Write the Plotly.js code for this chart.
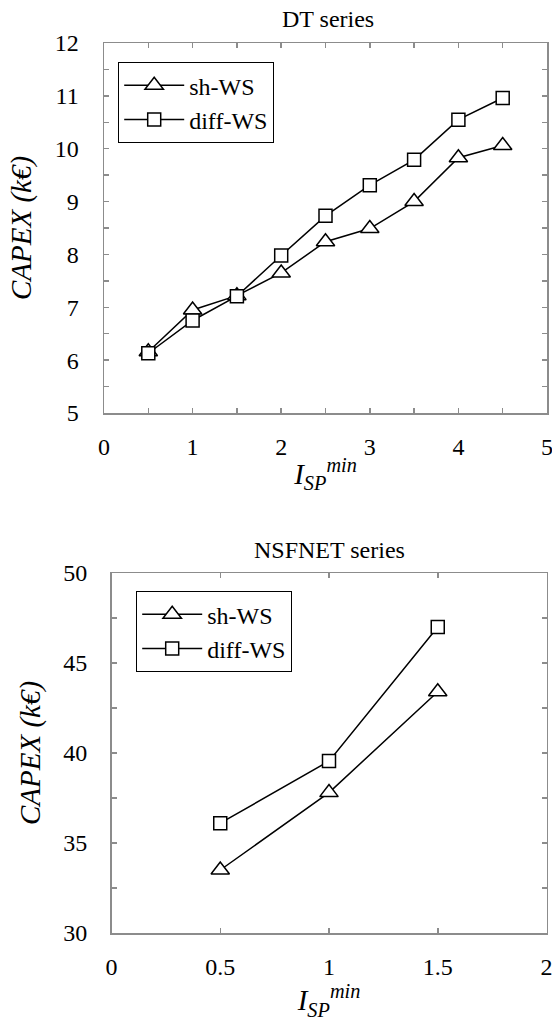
<!DOCTYPE html>
<html><head><meta charset="utf-8">
<script src="https://cdn.plot.ly/plotly-3.0.1.min.js"></script>
<style>body{margin:0;background:#fff}</style>
</head><body><div id="chart" style="width:552px;height:1023px"></div>
<script>
// DT series
const dtX = [0.5, 1, 1.5, 2, 2.5, 3, 3.5, 4, 4.5];
const dtShWS = [6.16, 6.95, 7.22, 7.65, 8.24, 8.49, 9.0, 9.83, 10.06];
const dtDiffWS = [6.13, 6.75, 7.21, 7.98, 8.73, 9.31, 9.79, 10.55, 10.96];
// NSFNET series
const nsX = [0.5, 1, 1.5];
const nsShWS = [33.5, 37.8, 43.4];
const nsDiffWS = [36.1, 39.55, 47.0];
const seriesNames = ['sh-WS', 'diff-WS'];
const panelTitles = ['DT series', 'NSFNET series'];

const gray = '#8c8c8c';

function tr(x, y, name, sym, size, xa, ya, leg) {
  return {x: x, y: y, name: name, type: 'scatter', mode: 'lines+markers',
    xaxis: xa, yaxis: ya, legend: leg, showlegend: true,
    line: {color: '#000', width: 1.5},
    marker: {symbol: sym, size: size, color: '#fff', line: {color: '#000', width: 1.5}}};
}
const data = [
  tr(dtX, dtShWS, seriesNames[0], 'triangle-up', 16, 'x', 'y', 'legend'),
  tr(dtX, dtDiffWS, seriesNames[1], 'square', 13, 'x', 'y', 'legend'),
  tr(nsX, nsShWS, seriesNames[0], 'triangle-up', 16, 'x2', 'y2', 'legend2'),
  tr(nsX, nsDiffWS, seriesNames[1], 'square', 13, 'x2', 'y2', 'legend2')
];

const W = 552, H = 1023;
const minorTicks = (d) => ({ticks: 'inside', ticklen: 5, tickcolor: gray, tickwidth: 1.5, dtick: d, tick0: 0, showgrid: false});
function ax(extra) {
  return Object.assign({
    showline: true, mirror: 'allticks', linecolor: gray, linewidth: 1.5,
    ticks: 'inside', ticklen: 5, tickcolor: gray, tickwidth: 1.5,
    showgrid: false, zeroline: false, ticklabeloverflow: 'allow'
  }, extra);
}
const xTitle = {text: '<i>I<sub>SP</sub><sup>min</sup></i>', standoff: 4};
const yTitle = {text: '<i>CAPEX (k€)</i>', standoff: 14};

const legendStyle = {xanchor: 'left', yanchor: 'top', bgcolor: '#fff',
  bordercolor: '#000', borderwidth: 1.2, itemwidth: 60, tracegroupgap: 0};

const layout = {
  width: W, height: H,
  margin: {l: 0, r: 0, t: 0, b: 0},
  font: {family: 'Liberation Serif', size: 24, color: '#000'},
  paper_bgcolor: '#fff', plot_bgcolor: '#fff',
  xaxis: ax({domain: [104/W, 547/W], range: [0, 5], dtick: 1, tick0: 0, minor: minorTicks(0.5), anchor: 'y', title: xTitle, ticklabelstandoff: 12}),
  yaxis: ax({domain: [1 - 413/H, 1 - 43/H], range: [5, 12], dtick: 1, tick0: 0, minor: minorTicks(0.5), anchor: 'x', title: yTitle, ticklabelstandoff: 19}),
  xaxis2: ax({domain: [111.5/W, 546.5/W], range: [0, 2], anchor: 'y2', title: xTitle, ticklabelstandoff: 12,
    tickvals: [0, 0.5, 1, 1.5, 2], ticktext: ['0', '0.5', '1', '1.5', '2']}),
  yaxis2: ax({domain: [1 - 933/H, 1 - 573/H], range: [30, 50], dtick: 5, tick0: 0, minor: minorTicks(2.5), anchor: 'x2', title: yTitle, ticklabelstandoff: 18}),
  legend: Object.assign({x: 118/W, y: 1 - 62/H}, legendStyle),
  legend2: Object.assign({x: 136/W, y: 1 - 591/H}, legendStyle),
  annotations: [
    {text: panelTitles[0], xref: 'paper', yref: 'paper', x: 328/W, y: 1 - 19/H, xanchor: 'center', yanchor: 'middle', showarrow: false},
    {text: panelTitles[1], xref: 'paper', yref: 'paper', x: 329/W, y: 1 - 550/H, xanchor: 'center', yanchor: 'middle', showarrow: false}
  ]
};
Plotly.newPlot('chart', data, layout, {displayModeBar: false, staticPlot: true});
</script></body></html>
